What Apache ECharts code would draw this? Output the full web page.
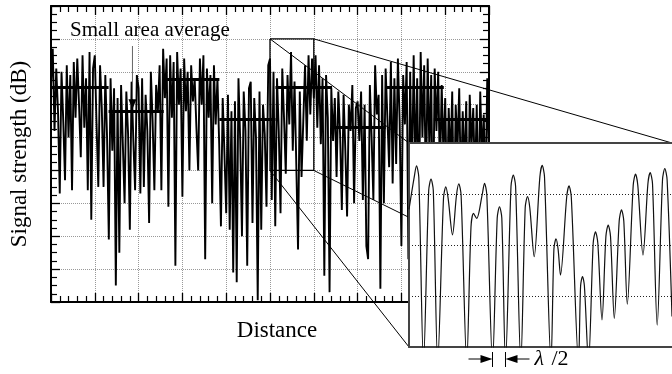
<!DOCTYPE html>
<html><head><meta charset="utf-8">
<script src="https://cdn.jsdelivr.net/npm/echarts@6/dist/echarts.min.js"></script>
<style>html,body{margin:0;padding:0;background:#fff}#c{width:672px;height:374px}</style>
</head><body><div id="c"></div>
<script>
// ---- data ----
const xStep = 0.04; // distance between samples (axis units)
const signal = [
 6.6,7.7,5.2,7.1,5.8,3.3,7.0,5.5,3.7,7.2,5.0,6.9,3.4,7.3,5.6,7.4,6.0,4.4,7.5,5.3,6.8,3.4,7.6,2.5,7.1,
 7.5,5.4,3.5,7.2,5.9,3.5,6.9,5.0,1.9,6.8,4.6,6.5,0.5,6.2,1.5,6.6,4.8,3.0,6.4,5.1,2.2,6.7,4.9,3.4,6.9,
 6.5,3.3,6.8,3.5,6.3,5.2,2.4,7.0,5.5,3.4,6.6,5.8,7.2,3.4,7.7,6.2,7.4,2.9,7.5,5.6,7.3,1.1,7.6,6.0,7.1,
 3.2,7.4,5.8,7.0,4.0,7.2,6.1,6.8,5.3,4.0,7.4,6.0,7.5,1.3,7.1,5.6,6.9,3.0,7.2,5.4,6.8,4.8,2.3,6.2,4.5,
 2.7,6.3,2.2,5.8,0.9,6.1,0.6,6.8,4.9,2.0,6.4,5.2,1.1,6.5,6.7,2.4,6.2,5.0,0.05,6.4,2.2,6.0,5.1,2.9,7.2,
 7.4,3.1,7.0,2.3,6.8,5.2,2.7,7.1,5.6,3.9,6.9,5.4,7.6,4.6,6.7,4.2,1.6,6.4,3.8,5.5,7.2,4.9,7.5,5.7,7.4,
 6.2,7.5,5.3,7.2,4.8,6.8,0.8,6.9,5.6,0.3,6.5,4.9,6.2,3.8,6.4,5.1,2.8,6.3,4.6,2.6,6.0,5.2,6.6,3.0,5.9,
 6.1,4.9,6.4,3.1,6.0,1.7,1.3,6.6,5.0,3.1,7.2,5.7,6.3,0.4,6.9,3.0,7.1,5.6,4.1,7.3,3.6,6.8,4.2,7.4,5.5,
 1.7,6.9,5.4,7.3,1.3,7.0,3.5,7.5,4.0,6.8,2.6,7.6,5.0,7.2,3.2,7.4,4.5,6.9,2.0,7.1,5.2,7.0,3.8,6.6,4.4,
 6.2,3.0,5.9,4.2,6.4,2.5,6.0,4.6,6.5,3.3,5.8,4.0,6.1,1.8,6.3,4.7,5.9,3.6,6.0,2.8,6.4,4.4,5.7,3.1,6.8,4.5
];
const avgStart = [0, 1.315, 2.585, 3.844, 5.125, 6.417, 7.642, 8.741];
const avgEnd   = [1.315, 2.574, 3.844, 5.125, 6.417, 7.642, 8.968, 10];
const avgValue = [6.53, 5.80, 6.77, 5.56, 6.53, 5.32, 6.53, 5.56];
const zoomX = [5, 6];
const zoomY = [4, 8];
const insetX = [5.0000,5.0198,5.0285,5.0373,5.0551,5.0749,5.0837,5.0924,5.1091,5.1312,5.1399,5.1487,5.1654,5.1806,5.1894,5.1981,5.2194,5.2357,5.2452,5.2574,5.2783,5.2871,5.2958,5.3175,5.3354,5.3441,5.3529,5.3669,5.3878,5.3966,5.4053,5.4251,5.4418,5.4506,5.4593,5.4760,5.4977,5.5065,5.5152,5.5399,5.5510,5.5589,5.5669,5.5760,5.5996,5.6084,5.6171,5.6445,5.6525,5.6597,5.6669,5.6825,5.7004,5.7091,5.7179,5.7338,5.7487,5.7574,5.7662,5.7806,5.7992,5.8080,5.8167,5.8300,5.8525,5.8612,5.8700,5.8897,5.9084,5.9171,5.9259,5.9437,5.9639,5.9726,5.9814,6.0000];
const insetY = [6.70,7.33,7.55,7.33,3.7,7.07,7.29,7.07,3.7,6.92,7.14,6.92,6.20,6.98,7.20,6.98,3.7,6.35,6.62,6.52,6.99,7.21,6.99,3.7,6.53,6.75,6.53,3.7,7.15,7.37,7.15,3.7,6.73,6.95,6.73,5.77,7.34,7.56,7.34,3.7,5.92,6.12,5.92,5.41,6.94,7.16,6.94,3.7,5.20,5.38,5.20,3.7,6.04,6.26,6.04,4.53,6.17,6.39,6.17,4.56,6.47,6.69,6.47,4.84,7.17,7.39,7.17,5.80,7.20,7.42,7.20,4.43,7.28,7.50,7.28,4.60];
const halfWaveNulls = [5.3175, 5.3669];
const arrowTarget = [1.86, 5.80];
const labels = { y: 'Signal strength (dB)', x: 'Distance', avg: 'Small area average', lambda: 'λ', half: '/2' };

// ---- chart ----
const FONT = 'Liberation Serif';
const chart = echarts.init(document.getElementById('c'), null, { renderer: 'canvas' });
const mainTicks = (split) => ({
  axisLine: { show: true, onZero: false, lineStyle: { color: '#000', width: 2 } },
  axisTick: { show: true, inside: true, length: 9, lineStyle: { color: '#000', width: 1.3 } },
  minorTick: { show: true, splitNumber: split, length: 6, lineStyle: { color: '#000', width: 1.2 } },
  axisLabel: { show: false }
});
const insetLine = { show: true, onZero: false, lineStyle: { color: '#444', width: 2 } };
const dotted = { show: true, lineStyle: { type: [1, 1], color: '#999', width: 1 } };

const mainData = signal.map((v, i) => [+(i * xStep).toFixed(3), v]);
const insetData = insetX.map((x, i) => [x, insetY[i]]);
const avgData = avgStart.map((s, i) => ({ coords: [[s, avgValue[i]], [avgEnd[i], avgValue[i]]] }));

chart.setOption({
  animation: false,
  grid: [
    { left: 48, top: 6, width: 441, height: 296, show: false },
    { left: 409, top: 143, width: 263, height: 204, show: true, backgroundColor: '#fff', borderWidth: 0, z: 5 }
  ],
  xAxis: [
    Object.assign({ gridIndex: 0, type: 'value', min: 0, max: 10, interval: 1, position: 'bottom',
      splitLine: dotted, name: labels.x, nameLocation: 'middle', nameGap: 17,
      nameTextStyle: { fontFamily: FONT, fontSize: 23, color: '#000', padding: [0, 0, 0, 14] } }, mainTicks(5)),
    Object.assign({ gridIndex: 0, type: 'value', min: 0, max: 10, interval: 1, position: 'top', splitLine: { show: false } }, mainTicks(5)),
    { gridIndex: 1, type: 'value', min: zoomX[0], max: zoomX[1], position: 'bottom', z: 6,
      axisLine: insetLine, axisTick: { show: false }, axisLabel: { show: false }, splitLine: { show: false } },
    { gridIndex: 1, type: 'value', min: zoomX[0], max: zoomX[1], position: 'top', z: 6,
      axisLine: insetLine, axisTick: { show: false }, axisLabel: { show: false }, splitLine: { show: false } }
  ],
  yAxis: [
    Object.assign({ gridIndex: 0, type: 'value', min: 0, max: 9, interval: 1, position: 'left',
      splitLine: dotted, name: labels.y, nameLocation: 'middle', nameGap: 20,
      nameTextStyle: { fontFamily: FONT, fontSize: 23, color: '#000' } }, mainTicks(4)),
    Object.assign({ gridIndex: 0, type: 'value', min: 0, max: 9, interval: 1, position: 'right', splitLine: { show: false } }, mainTicks(4)),
    { gridIndex: 1, type: 'value', min: zoomY[0], max: zoomY[1], interval: 1, position: 'left', z: 6,
      axisLine: insetLine, axisTick: { show: false }, axisLabel: { show: false },
      splitLine: { show: true, lineStyle: { type: [1, 2], color: '#222', width: 1 } } }
  ],
  series: [
    { type: 'line', xAxisIndex: 0, yAxisIndex: 0, data: mainData, showSymbol: false, symbol: 'none',
      lineStyle: { color: '#000', width: 1.9 }, z: 2, silent: true },
    { type: 'lines', coordinateSystem: 'cartesian2d', xAxisIndex: 0, yAxisIndex: 0, data: avgData,
      lineStyle: { color: '#000', width: 3, opacity: 1 }, z: 3, silent: true },
    { type: 'line', xAxisIndex: 2, yAxisIndex: 2, data: insetData, showSymbol: false, symbol: 'none', smooth: 0.3,
      lineStyle: { color: '#111', width: 1.2 }, z: 7, silent: true }
  ]
});

// ---- annotations computed through the axes ----
const p0 = (p) => chart.convertToPixel({ gridIndex: 0 }, p);
const p1 = (p) => chart.convertToPixel({ gridIndex: 1 }, p);
const rTL = p0([zoomX[0], zoomY[1]]), rTR = p0([zoomX[1], zoomY[1]]);
const rBL = p0([zoomX[0], zoomY[0]]), rBR = p0([zoomX[1], zoomY[0]]);
const iTL = p1([zoomX[0], zoomY[1]]), iTR = p1([zoomX[1], zoomY[1]]);
const iBL = p1([zoomX[0], zoomY[0]]), iBR = p1([zoomX[1], zoomY[0]]);
const tgt = p0(arrowTarget);
const tipY = tgt[1] - 2;
const n1 = p1([halfWaveNulls[0], zoomY[0]])[0];
const n2 = p1([halfWaveNulls[1], zoomY[0]])[0];
const ay = iBL[1] + 12;
const seg = (a, b, w, c, z) => ({ type: 'line', z: z, shape: { x1: a[0], y1: a[1], x2: b[0], y2: b[1] }, style: { stroke: c || '#000', lineWidth: w || 1 } });

chart.setOption({
  graphic: { elements: [
    { type: 'polyline', z: 4, shape: { points: [rTL, rTR, rBR, rBL, rTL] }, style: { stroke: '#000', lineWidth: 1.3, fill: null } },
    seg(rTL, iTL, 1, '#000', 4), seg(rTR, iTR, 1, '#000', 4), seg(rBL, iBL, 1, '#000', 4), seg(rBR, iBR, 1, '#000', 4),
    { type: 'text', z: 4, x: 70, y: 30, style: { text: labels.avg, font: '21px "Liberation Serif"', fill: '#000', textAlign: 'left', textVerticalAlign: 'middle' } },
    seg([tgt[0], 46], [tgt[0], tipY - 10], 1, '#666', 4),
    { type: 'polygon', z: 4, shape: { points: [[tgt[0] - 4, tipY - 10], [tgt[0] + 4, tipY - 10], [tgt[0], tipY]] }, style: { fill: '#000' } },
    // lambda/2 marker
    seg([n1, ay - 7], [n1, ay + 8], 1, '#000', 8),
    seg([n2, ay - 7], [n2, ay + 8], 1, '#000', 8),
    seg([n1 - 24, ay], [n1 - 10, ay], 1, '#000', 8),
    { type: 'polygon', z: 8, shape: { points: [[n1 - 12, ay - 4], [n1 - 12, ay + 4], [n1, ay]] }, style: { fill: '#000' } },
    seg([n2 + 10, ay], [n2 + 24, ay], 1, '#000', 8),
    { type: 'polygon', z: 8, shape: { points: [[n2 + 12, ay - 4], [n2 + 12, ay + 4], [n2, ay]] }, style: { fill: '#000' } },
    { type: 'text', z: 8, x: n2 + 29, y: ay, style: { text: labels.lambda, font: 'italic 22px "Liberation Serif"', fill: '#000', textAlign: 'left', textVerticalAlign: 'middle' } },
    { type: 'text', z: 8, x: n2 + 46, y: ay, style: { text: labels.half, font: '22px "Liberation Serif"', fill: '#000', textAlign: 'left', textVerticalAlign: 'middle' } }
  ] }
});
</script></body></html>
